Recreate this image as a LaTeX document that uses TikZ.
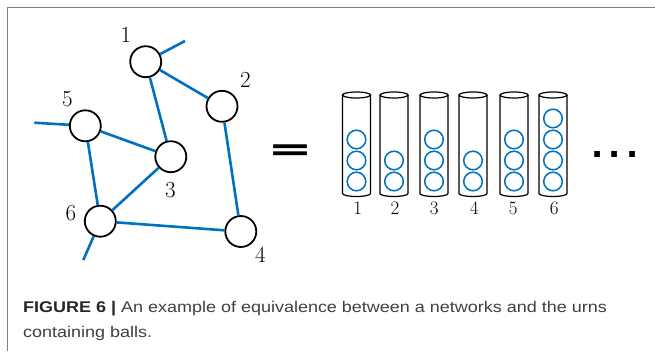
\documentclass[tikz,border=0pt]{standalone}
\usepackage{fontspec}
\newfontfamily\capfont[FakeStretch=1.16]{Liberation Sans}
\newfontfamily\calfont{Carlito}
\newfontfamily\dotfont{DejaVu Sans}
\definecolor{netblue}{RGB}{0,112,192}
\definecolor{framegray}{RGB}{128,128,128}
\definecolor{captext}{RGB}{64,64,64}
\tikzset{
  vert/.style={circle, draw=black, line width=1.8pt, minimum size=31pt, inner sep=0pt, fill=white},
  netedge/.style={draw=netblue, line width=2.6pt},
  numlab/.style={inner sep=0pt, font=\fontsize{23}{23}\selectfont},
  urnlab/.style={inner sep=0pt, font=\fontsize{19}{19}\selectfont},
  urn/.style={draw=black, line width=1.2pt},
  ball/.style={draw=netblue, line width=1.5pt},
  caption/.style={inner sep=0pt, anchor=base west, text=captext, font=\capfont\fontsize{15.5}{15.5}\selectfont}
}
\begin{document}
\begin{tikzpicture}[x=1pt,y=-1pt]
\useasboundingbox (0,0) rectangle (655,351);
\draw[framegray, line width=1.3pt] (7.5,351) -- (7.5,7.7) -- (655,7.7);
% network
\node[vert] (n1) at (145.7,61.7) {};
\node[vert] (n2) at (222,106.3) {};
\node[vert] (n3) at (170.8,156.7) {};
\node[vert] (n4) at (240.8,231.5) {};
\node[vert] (n5) at (85.3,125.8) {};
\node[vert] (n6) at (100.3,221.2) {};
\coordinate (e1) at (185,41);
\coordinate (e5) at (34.3,122.7);
\coordinate (e6) at (83.3,260);
\draw[netedge] (n1) -- (e1);
\draw[netedge] (n5) -- (e5);
\draw[netedge] (n6) -- (e6);
\draw[netedge] (n1) -- (n2);
\draw[netedge] (n1) -- (n3);
\draw[netedge] (n5) -- (n3);
\draw[netedge] (n5) -- (n6);
\draw[netedge] (n6) -- (n3);
\draw[netedge] (n6) -- (n4);
\draw[netedge] (n2) -- (n4);
\node[numlab] (l1) at (126,35.3) {1};
\node[numlab] (l2) at (245.5,79.5) {2};
\node[numlab] (l3) at (170.5,190.5) {3};
\node[numlab] (l4) at (260.5,255) {4};
\node[numlab] (l5) at (67.5,98.8) {5};
\node[numlab] (l6) at (71,213.5) {6};
% equals
\node[inner sep=0pt] (eq) at (290.7,154.4) {\resizebox{40pt}{18.7pt}{\calfont\bfseries =}};
% urns
\foreach \cx/\n in {356.5/3, 394/2, 434/3, 473/2, 514/3, 553/4}{
  \draw[urn] (\cx-14,95) -- (\cx-14,193.5) arc[start angle=180, end angle=360, x radius=14, y radius=-3] -- (\cx+14,95);
  \draw[urn] (\cx,95) ellipse[x radius=14, y radius=3];
  \foreach \k in {1,...,\n}{
    \draw[ball] (\cx,{181.5-21*(\k-1)}) circle[radius=9.3];
  }
}
\foreach \lx/\t in {357.7/1, 395/2, 434.3/3, 474.3/4, 513.3/5, 554.3/6}{
  \node[urnlab] (u\t) at (\lx,208.3) {\t};
}
\node[inner sep=0pt, anchor=base, font=\dotfont\bfseries\fontsize{32}{32}\selectfont] (dots) at (615,157.8) {.\hspace{5.5pt}.\hspace{5.5pt}.};
% caption
\node[caption] (cap1) at (23,312.5) {{\bfseries\color{black!85} FIGURE 6 |} An example of equivalence between a networks and the urns};
\node[caption] (cap2) at (23,337.5) {containing balls.};
\end{tikzpicture}
\end{document}
